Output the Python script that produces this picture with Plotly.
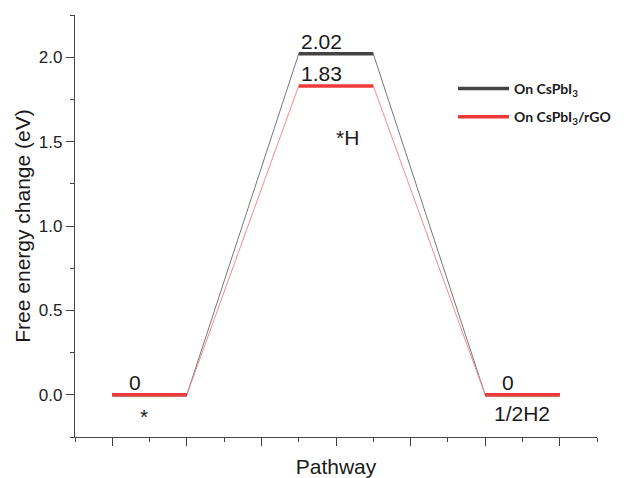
import plotly.graph_objects as go

# ---- data ----
series_names = ["<b>On CsPbI<sub>3</sub></b>", "<b>On CsPbI<sub>3</sub>/rGO</b>"]
series_colors = ["#444444", "#f03a3a"]
connector_colors = ["#777777", "#f58a8a"]
# energy level of each state (eV)
energies = [
    [0.0, 2.02, 0.0],   # On CsPbI3
    [0.0, 1.83, 0.0],   # On CsPbI3/rGO
]
# pathway coordinate span of each state level
level_start = [1.0, 3.5, 6.0]
level_end = [2.0, 4.5, 7.0]
state_labels = ["*", "*H", "1/2H2"]
state_label_x = [1.42, 4.15, 6.49]
state_label_y = [-0.127, 1.525, -0.113]
value_label_x = [1.31, 3.80, 6.31]

FONT = "Liberation Sans, Arial, sans-serif"

fig = go.Figure()

# thin connecting lines (full pathway)
for ei, en in enumerate(energies):
    xs, ys = [], []
    for s, e, v in zip(level_start, level_end, en):
        xs += [s, e]
        ys += [v, v]
    fig.add_trace(go.Scatter(x=xs, y=ys, mode="lines",
                             line=dict(color=connector_colors[ei], width=1),
                             showlegend=False, hoverinfo="skip"))

# thick level bars
for ei, en in enumerate(energies):
    xs, ys = [], []
    for s, e, v in zip(level_start, level_end, en):
        xs += [s, e, None]
        ys += [v, v, None]
    fig.add_trace(go.Scatter(x=xs, y=ys, mode="lines", name=series_names[ei],
                             line=dict(color=series_colors[ei], width=3.5),
                             legendgroup=str(ei), showlegend=True))

# value labels above levels
labels_done = set()
for ei, en in enumerate(energies):
    for li, v in enumerate(en):
        key = (li, round(v, 3))
        if key in labels_done:
            continue
        labels_done.add(key)
        txt = "0" if v == 0 else f"{v:.2f}"
        fig.add_annotation(x=value_label_x[li], y=v, text=txt, showarrow=False,
                           xanchor="center", yanchor="bottom", yshift=-1,
                           font=dict(family=FONT, size=21, color="#1a1a1a"))

# state labels
for lab, lx, ly in zip(state_labels, state_label_x, state_label_y):
    fig.add_annotation(x=lx, y=ly, text=lab, showarrow=False,
                       xanchor="center", yanchor="middle",
                       font=dict(family=FONT, size=21, color="#1a1a1a"))

axis_common = dict(showline=True, linecolor="#444444", linewidth=1.3,
                   showgrid=False, zeroline=False, ticks="outside",
                   tickcolor="#444444", tickwidth=1.3, ticklen=8)

fig.update_layout(
    width=624, height=478,
    margin=dict(l=75, r=27, t=15, b=41, autoexpand=False),
    paper_bgcolor="white", plot_bgcolor="white",
    font=dict(family=FONT, size=17, color="#222222"),
    xaxis=dict(range=[0.5, 7.5], tickvals=[1, 2, 3, 4, 5, 6, 7], showticklabels=False,
               minor=dict(ticks="outside", ticklen=4, dtick=0.5, tick0=0.5,
                          tickcolor="#444444", tickwidth=1.3),
               title=dict(text="Pathway", font=dict(family=FONT, size=21, color="#1a1a1a"),
                          standoff=16),
               automargin=False,
               **axis_common),
    yaxis=dict(range=[-0.25, 2.25], dtick=0.5, tick0=0, tickformat=".1f",
               tickfont=dict(family=FONT, size=17, color="#222222"),
               minor=dict(ticks="outside", ticklen=4, dtick=0.25, tick0=0,
                          tickcolor="#444444", tickwidth=1.3),
               title=dict(text="Free energy change (eV)",
                          font=dict(family=FONT, size=21, color="#1a1a1a"), standoff=2),
               automargin=False,
               **axis_common),
    legend=dict(x=(453 - 75) / 522, y=(478 - 41 - 73) / 422, xanchor="left", yanchor="top",
                bgcolor="rgba(0,0,0,0)", borderwidth=0, itemwidth=51,
                font=dict(family="Lato, Open Sans, sans-serif", size=14, color="#1a1a1a"),
                traceorder="grouped", tracegroupgap=7),
)

fig.write_html("out.html")
